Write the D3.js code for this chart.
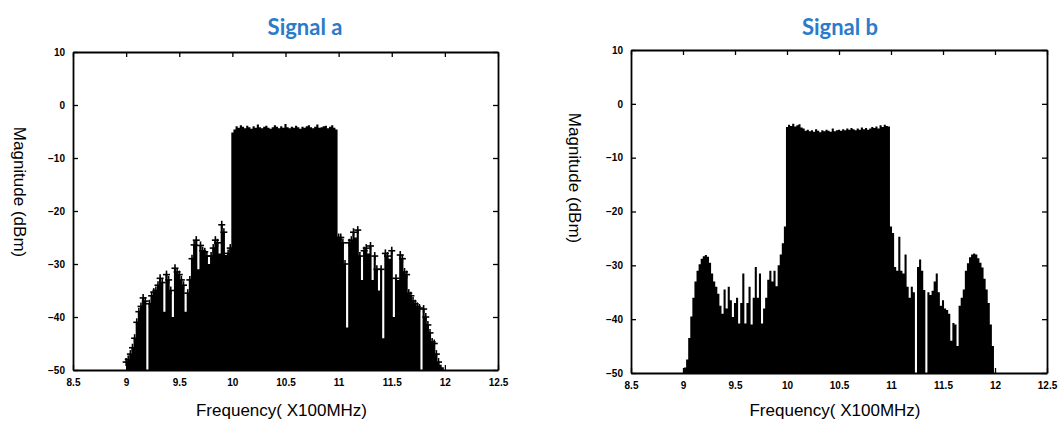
<!doctype html>
<html>
<head>
<meta charset="utf-8">
<script src="https://cdn.jsdelivr.net/npm/d3@7"></script>
<style>
html,body{margin:0;background:#fff;overflow:hidden;}
.tick text{font-family:"Liberation Sans",Arial,sans-serif;font-size:10px;font-weight:bold;}
</style>
</head>
<body>
<script>
// axis ticks (frequency in x100MHz, magnitude in dBm)
var xTicks = [8.5, 9, 9.5, 10, 10.5, 11, 11.5, 12, 12.5];
var yTicks = [10, 0, -10, -20, -30, -40, -50];
var xTickLabels = ["8.5", "9", "9.5", "10", "10.5", "11", "11.5", "12", "12.5"];

var freqStart = 9.0, freqStep = 0.02;

var signalA = [
  // 9.00 - 9.98
  -48.5,-48,-47,-45.8,-44,-41,-39,-38,-36.4,-37,
  -50,-37.5,-36,-35.3,-35,-34,-32.7,-33.5,-39,-32,
  -33,-35,-40,-30.8,-31.5,-32,-33,-34,-39,-35.5,
  -33,-29,-26.4,-25.5,-31,-26.5,-27.5,-27.7,-28.5,-30,
  -28.5,-27,-25.5,-26,-28,-22.6,-24,-28.3,-28,-27,
  // 10.00 - 10.98 (main band)
  -5.2,-4.6,-4.0,-4.3,-3.8,-4.1,-4.4,-3.9,-4.2,-4.5,
  -4.0,-4.3,-3.7,-4.2,-4.4,-4.1,-3.9,-4.3,-4.5,-4.2,
  -3.8,-4.1,-4.4,-4.0,-4.3,-3.6,-4.2,-4.4,-4.1,-4.3,
  -3.9,-4.2,-4.5,-4.1,-4.3,-4.0,-3.8,-4.2,-4.4,-4.1,
  -3.7,-4.3,-4.2,-4.0,-3.9,-4.4,-4.1,-3.8,-4.3,-4.6,
  // 11.00 - 12.00
  -25,-25,-26,-30,-42,-26,-25.5,-24,-25,-23.6,
  -28.5,-33,-27.5,-27,-28,-26.6,-33,-28.5,-31,-35,
  -31,-44,-28,-28.5,-29,-27.5,-40,-32.7,-33,-28.3,
  -29,-31.5,-32,-35.5,-36,-37,-37.5,-38,-38.3,-50,
  -38.5,-40,-41.5,-43,-44.7,-45,-47,-48.5,-49,-49.5,
  -50
];

var signalB = [
  // 9.00 - 9.98
  -50,-49,-47.5,-43.5,-39.5,-36,-33,-31,-29.8,-28.8,
  -28.3,-28.1,-28.4,-29.5,-31.5,-33,-34,-35.3,-37.5,-39,
  -34.5,-38,-34,-36.5,-39.6,-37,-36,-40.8,-37,-31.5,
  -40.8,-37,-34,-41,-36,-30.3,-36,-31.5,-40.8,-38,
  -36,-32.7,-31,-33,-31,-33.9,-30,-28,-25.9,-22.8,
  // 10.00 - 10.98 (main band)
  -4.3,-3.9,-4.1,-3.7,-4.2,-4.0,-3.8,-4.4,-4.6,-5.0,
  -4.8,-5.1,-4.9,-5.2,-4.7,-5.0,-5.3,-4.9,-5.1,-4.8,
  -5.0,-5.2,-4.6,-5.1,-4.9,-4.8,-5.0,-4.7,-4.9,-4.6,
  -4.8,-4.5,-4.7,-4.9,-4.6,-4.8,-4.4,-4.7,-4.5,-4.8,
  -4.6,-4.3,-4.5,-4.2,-4.6,-4.0,-4.3,-3.9,-4.1,-4.2,
  // 11.00 - 12.00
  -22.8,-24,-30.3,-31,-24.7,-31,-31.5,-28,-34,-36,
  -34,-35,-50,-30.3,-28.9,-31,-34.6,-50,-35,-35.5,
  -34.7,-33,-31.5,-35,-37.5,-36.5,-38,-38.3,-39,-44,
  -40.7,-41,-45,-37.5,-36,-34.5,-31,-29.6,-28.5,-28,
  -27.8,-28,-28.7,-29.5,-30.4,-32.5,-34.5,-37,-41,-45,
  -50
];

var svg = d3.select("body").append("svg")
    .attr("width", 1064)
    .attr("height", 423);

function drawPanel(cfg) {
    var x = d3.scaleLinear().domain([8.5, 12.5]).range([cfg.left, cfg.right]);
    var y = d3.scaleLinear().domain([-50, 10]).range([cfg.bottom, cfg.top]);
    var g = svg.append("g");

    var pts = cfg.data.map(function(v, i) { return {f: freqStart + i * freqStep, v: v}; });

    // filled spectrum
    g.append("path")
        .datum(pts)
        .attr("fill", "#000")
        .attr("d", d3.area()
            .curve(d3.curveStep)
            .x(function(d) { return x(d.f); })
            .y0(y(-50))
            .y1(function(d) { return y(d.v); }));

    // "+" markers on the side-lobe stems (skip the dips)
    if (cfg.markers) {
        var peaks = pts.filter(function(d, i) {
            var a = i > 0 ? pts[i-1].v : -50, b = i < pts.length-1 ? pts[i+1].v : -50;
            return d.v < -15 && d.v > -49 && d.v >= Math.min(a, b);
        });
        var m = g.append("g").attr("stroke", "#000").attr("stroke-width", 1.6);
        m.selectAll(".h").data(peaks).enter().append("line")
            .attr("x1", function(d) { return x(d.f) - 3.5; })
            .attr("x2", function(d) { return x(d.f) + 3.5; })
            .attr("y1", function(d) { return y(d.v); })
            .attr("y2", function(d) { return y(d.v); });
        m.selectAll(".v").data(peaks).enter().append("line")
            .attr("x1", function(d) { return x(d.f); })
            .attr("x2", function(d) { return x(d.f); })
            .attr("y1", function(d) { return y(d.v) - 4; })
            .attr("y2", function(d) { return y(d.v) + 4; });
    }

    // axes, ticks pointing inwards like the old matlab plots
    var fmt = function(d, i) { return xTickLabels[i]; };
    g.append("g").attr("transform", "translate(0," + cfg.bottom + ")")
        .call(d3.axisBottom(x).tickValues(xTicks).tickFormat(fmt).tickSizeInner(-5).tickSizeOuter(0).tickPadding(9));
    g.append("g").attr("transform", "translate(0," + cfg.top + ")")
        .call(d3.axisTop(x).tickValues(xTicks).tickFormat("").tickSizeInner(-5).tickSizeOuter(0));
    g.append("g").attr("transform", "translate(" + cfg.left + ",0)")
        .call(d3.axisLeft(y).tickValues(yTicks).tickSizeInner(-5).tickSizeOuter(0).tickPadding(8));
    g.append("g").attr("transform", "translate(" + cfg.right + ",0)")
        .call(d3.axisRight(y).tickValues(yTicks).tickFormat("").tickSizeInner(-5).tickSizeOuter(0));
    g.selectAll(".domain").attr("stroke-width", 1.8);
    g.selectAll(".tick line").attr("stroke-width", 1.3);

    // texts
    g.append("text")
        .attr("x", cfg.titleX).attr("y", 35)
        .attr("text-anchor", "middle")
        .style("font-family", "Lato, 'Open Sans', sans-serif")
        .style("font-weight", "bold")
        .style("font-size", "22px")
        .style("fill", "#2a7bc9")
        .text(cfg.title);
    g.append("text")
        .attr("x", (cfg.left + cfg.right) / 2 - 4).attr("y", 416)
        .attr("text-anchor", "middle")
        .style("font-family", "'Liberation Sans', Arial, sans-serif")
        .style("font-size", "17px")
        .text("Frequency( X100MHz)");
    g.append("text")
        .attr("transform", "translate(" + cfg.ylabX + "," + cfg.ylabY + ") rotate(90)")
        .attr("text-anchor", "middle")
        .attr("dy", "0.35em")
        .style("font-family", "'Liberation Sans', Arial, sans-serif")
        .style("font-size", "17px")
        .text("Magnitude (dBm)");
}

drawPanel({data: signalA, markers: true, title: "Signal a",
    left: 73, right: 498, top: 52, bottom: 370, titleX: 305, ylabX: 20, ylabY: 192});
drawPanel({data: signalB, markers: false, title: "Signal b",
    left: 631, right: 1047, top: 50, bottom: 373, titleX: 840, ylabX: 575, ylabY: 178});
</script>
</body>
</html>
